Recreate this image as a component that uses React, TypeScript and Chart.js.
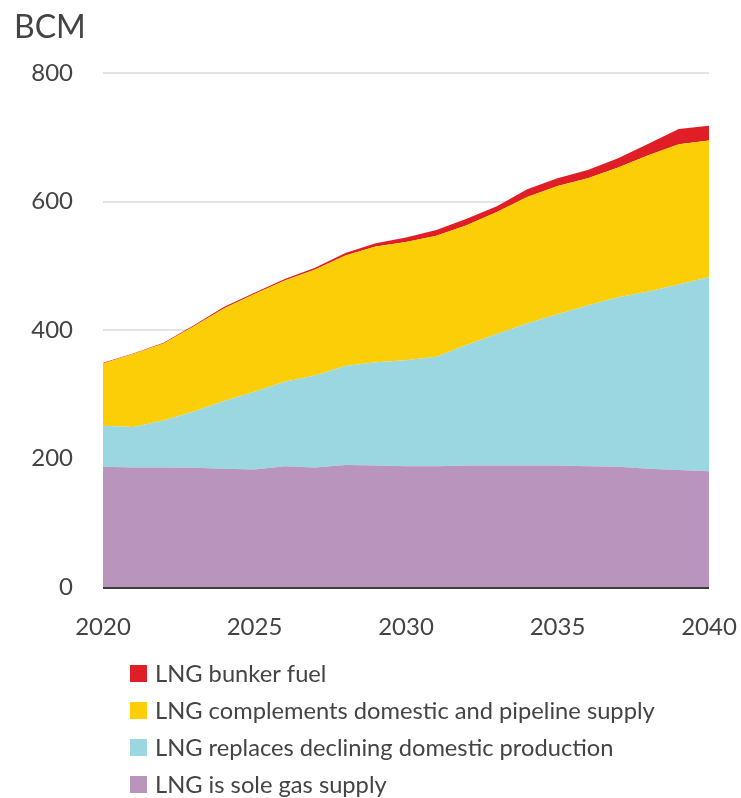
import React, { useEffect, useRef } from "react";
import { Chart, registerables } from "chart.js";

Chart.register(...registerables);

const years = [
  "2020", "2021", "2022", "2023", "2024", "2025", "2026", "2027", "2028", "2029", "2030",
  "2031", "2032", "2033", "2034", "2035", "2036", "2037", "2038", "2039", "2040",
];

const soleSupply = [187, 186, 186, 185.5, 184, 183, 188, 186, 190, 189, 188, 188, 189, 189, 189, 189, 188, 187, 184, 182, 180];
const replacesDeclining = [64, 63, 73, 87.5, 105.5, 121, 131.5, 143, 154, 161, 165, 170.5, 187.7, 204.8, 221, 235.5, 250, 264, 276, 289, 302];
const complements = [97, 113.6, 120, 133, 144.5, 152, 157.5, 165, 172, 180, 184, 188, 186.3, 190, 197, 199.5, 198, 202, 212, 218, 213];
const bunkerFuel = [1, 1, 1, 1.5, 2, 2, 2.5, 3, 4, 5, 7, 9, 10, 9, 12, 12, 13, 14.5, 18, 24, 23];

const yTicks = [0, 200, 400, 600, 800];
const xTickLabels = ["2020", "2025", "2030", "2035", "2040"];

const unitLabel = "BCM";
const legendItems = [
  { label: "LNG bunker fuel", color: "#E01E26" },
  { label: "LNG complements domestic and pipeline supply", color: "#FBCE07" },
  { label: "LNG replaces declining domestic production", color: "#9AD7E0" },
  { label: "LNG is sole gas supply", color: "#B994BD" },
];

const FONT = "Lato, 'Noto Sans', sans-serif";
const TEXT = "#444444";

export default function App() {
  const ref = useRef<HTMLCanvasElement | null>(null);

  useEffect(() => {
    if (!ref.current) return;
    const extras = {
      id: "extras",
      afterDatasetsDraw(chart: any) {
        const { ctx, chartArea } = chart;
        ctx.save();
        ctx.strokeStyle = "#3c3c3c";
        ctx.lineWidth = 2;
        ctx.beginPath();
        ctx.moveTo(chartArea.left, chartArea.bottom + 1);
        ctx.lineTo(chartArea.right, chartArea.bottom + 1);
        ctx.stroke();
        ctx.restore();
      },
      afterDraw(chart: any) {
        const { ctx } = chart;
        ctx.save();
        ctx.fillStyle = TEXT;
        ctx.font = `32px ${FONT}`;
        ctx.textBaseline = "alphabetic";
        ctx.textAlign = "left";
        ctx.fillText(unitLabel, 14, 38);
        ctx.font = `23.7px ${FONT}`;
        legendItems.forEach((it, i) => {
          const top = 665 + 37 * i;
          ctx.fillStyle = it.color;
          ctx.fillRect(130, top, 17, 17);
          ctx.fillStyle = TEXT;
          ctx.fillText(it.label, 155, top + 17);
        });
        ctx.restore();
      },
    };

    const chart = new Chart(ref.current, {
      type: "line",
      data: {
        labels: years,
        datasets: [
          { label: legendItems[3].label, data: soleSupply, backgroundColor: legendItems[3].color, fill: "origin" },
          { label: legendItems[2].label, data: replacesDeclining, backgroundColor: legendItems[2].color, fill: "-1" },
          { label: legendItems[1].label, data: complements, backgroundColor: legendItems[1].color, fill: "-1" },
          { label: legendItems[0].label, data: bunkerFuel, backgroundColor: legendItems[0].color, fill: "-1" },
        ].map((d) => ({ ...d, borderWidth: 0, pointRadius: 0, tension: 0, borderColor: d.backgroundColor })),
      },
      options: {
        animation: false,
        responsive: false,
        maintainAspectRatio: false,
        layout: { padding: { top: 73, right: 32, left: 0, bottom: 0 } },
        plugins: { legend: { display: false }, tooltip: { enabled: false } },
        scales: {
          x: {
            offset: false,
            grid: { display: false, drawTicks: false },
            border: { display: false },
            ticks: {
              autoSkip: false,
              maxRotation: 0,
              padding: 26,
              color: TEXT,
              font: { family: FONT, size: 24 },
              callback: (_v: any, i: number) => (xTickLabels.includes(years[i]) ? years[i] : ""),
            },
            afterFit: (s: any) => {
              s.height = 798 - 587;
              s.paddingLeft = 0;
              s.paddingRight = 0;
            },
          },
          y: {
            stacked: true,
            min: 0,
            max: 800,
            afterBuildTicks: (s: any) => { s.ticks = yTicks.map((v) => ({ value: v })); },
            grid: {
              drawTicks: false,
              color: (c: any) => (c.tick && c.tick.value === 0 ? "rgba(0,0,0,0)" : "#e3e3e3"),
              lineWidth: 2,
            },
            border: { display: false },
            ticks: {
              padding: 30,
              color: TEXT,
              font: { family: FONT, size: 24 },
            },
            afterFit: (s: any) => {
              s.width = 103;
              s.paddingTop = 0;
              s.paddingBottom = 0;
            },
          },
        },
      },
      plugins: [extras],
    });
    return () => chart.destroy();
  }, []);

  return (
    <div style={{ position: "absolute", left: 0, top: 0, width: 741, height: 798, background: "#fff" }}>
      <canvas ref={ref} width={741} height={798} style={{ display: "block", width: 741, height: 798 }} />
    </div>
  );
}
